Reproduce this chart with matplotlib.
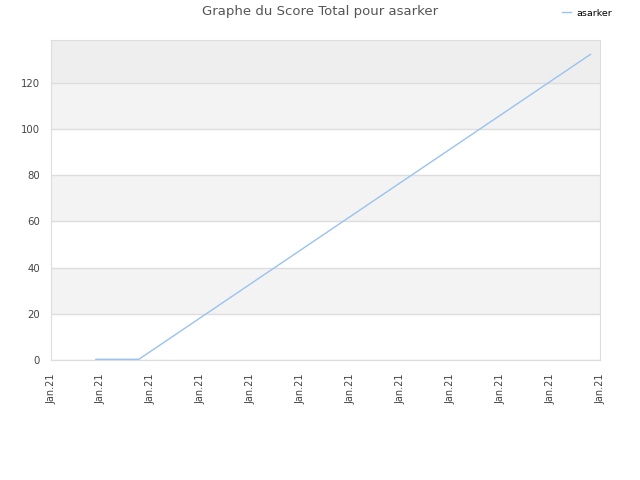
import matplotlib
matplotlib.use("Agg")
import matplotlib.pyplot as plt

# donnees
x_pos = [0.9, 1.76, 10.81]
scores = [0.3, 0.3, 132.4]
tick_labels = ["Jan.21"] * 12
y_ticks = [0, 20, 40, 60, 80, 100, 120]

fig = plt.figure(figsize=(6.4, 4.8), dpi=100)
ax = fig.add_axes([51 / 640, 1 - 360 / 480, 549 / 640, 320 / 480])

ymax = 138.6
# bandes alternees
for i, lo in enumerate(y_ticks):
    hi = lo + 20 if lo < 120 else ymax
    if lo == 120:
        col = "#eeeeee"
    elif i % 2 == 1:
        col = "#f3f3f3"
    else:
        col = "white"
    ax.axhspan(lo, hi, color=col, zorder=0, lw=0)
for v in y_ticks:
    ax.axhline(v, color="#dddddd", lw=1, zorder=1)

ax.plot(x_pos, scores, color="#99c2f0", lw=1, label="asarker", zorder=3)

ax.set_xlim(0, 11)
ax.set_ylim(0, ymax)
ax.set_xticks(range(12))
ax.set_xticklabels(tick_labels, rotation=90, fontsize=7, color="#444444")
ax.set_yticks(y_ticks)
ax.set_yticklabels([str(v) for v in y_ticks], fontsize=7.3, color="#444444")
ax.tick_params(axis="y", length=0, pad=8)
ax.tick_params(axis="x", length=0, pad=10)
for s in ax.spines.values():
    s.set_color("#dddddd")

fig.text(0.5, 1 - 12 / 480, "Graphe du Score Total pour asarker", ha="center", va="center",
         fontsize=9.5, color="#555555")
fig.legend(loc="center left", bbox_to_anchor=(562 / 640, 1 - 13 / 480), frameon=False,
           fontsize=6.8, handlelength=1.0, handletextpad=0.5, borderpad=0, borderaxespad=0)

plt.savefig("out.png", dpi=100)
